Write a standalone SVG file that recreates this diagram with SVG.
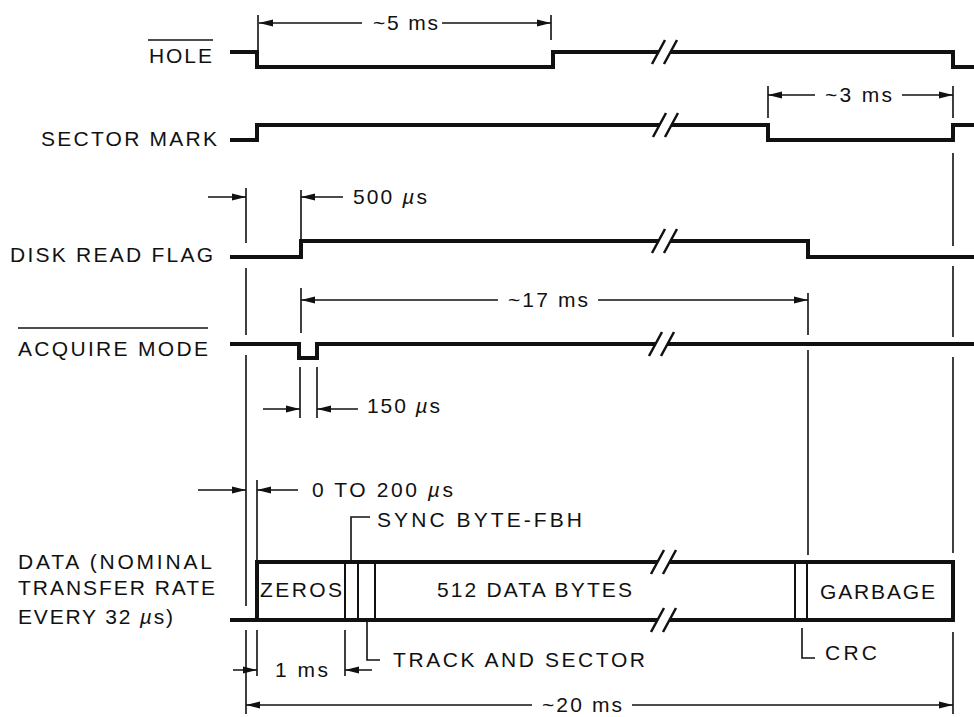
<svg xmlns="http://www.w3.org/2000/svg" width="974" height="717" viewBox="0 0 974 717">
<style>
.t{font-family:"Liberation Sans",Arial,Helvetica,sans-serif;font-size:21px;fill:#111;}
.sig{fill:none;stroke:#111;stroke-width:4;stroke-linejoin:miter;stroke-linecap:butt;}
.brk{fill:none;stroke:#111;stroke-width:2.5;}
.g{fill:none;stroke:#111;stroke-width:1.6;}
.dim{fill:none;stroke:#111;stroke-width:1.5;marker-end:url(#ah);}
.div{fill:none;stroke:#111;stroke-width:2;}
.ov{stroke:#111;stroke-width:1.6;}
</style>
<defs>
<marker id="ah" markerUnits="userSpaceOnUse" markerWidth="15" markerHeight="8" refX="14" refY="4" orient="auto">
<path d="M0,0.5 L14,4 L0,7.5 z" fill="#111"/>
</marker>
</defs>
<rect width="974" height="717" fill="#fff"/>

<g id="sig-hole">
<line class="ov" x1="148" y1="40" x2="213" y2="40"/>
<text class="t" x="149" y="63" textLength="63" lengthAdjust="spacing">HOLE</text>
<path class="sig" d="M230,52 H257 V67 H553 V52 H659 M670,52 H953 V67 H974"/>
<path class="brk" d="M652,64 L665,40 M664,64 L677,40"/>
</g>

<g id="sig-sector">
<text class="t" x="41" y="146" textLength="176" lengthAdjust="spacing">SECTOR MARK</text>
<path class="sig" d="M230,140 H257 V125 H660 M671,125 H768 V140 H953 V125 H974"/>
<path class="brk" d="M653,137 L666,113 M665,137 L678,113"/>
</g>

<g id="sig-diskread">
<text class="t" x="10" y="262" textLength="203" lengthAdjust="spacing">DISK READ FLAG</text>
<path class="sig" d="M230,257 H301 V241 H659 M670,241 H808 V257 H974"/>
<path class="brk" d="M652,253 L665,229 M664,253 L677,229"/>
</g>

<g id="sig-acquire">
<line class="ov" x1="18" y1="328" x2="208" y2="328"/>
<text class="t" x="18" y="356" textLength="190" lengthAdjust="spacing">ACQUIRE MODE</text>
<path class="sig" d="M230,344 H299 V358 H317 V344 H656 M667,344 H974"/>
<path class="brk" d="M649,356 L662,332 M661,356 L674,332"/>
</g>

<g id="sig-data">
<text class="t" x="18" y="569" textLength="194" lengthAdjust="spacing">DATA (NOMINAL</text>
<text class="t" x="18" y="595" textLength="197" lengthAdjust="spacing">TRANSFER RATE</text>
<text class="t" x="18" y="624" textLength="155" lengthAdjust="spacing">EVERY 32 <tspan font-style="italic">µ</tspan>s)</text>
<path class="sig" d="M230,620 H658 M669,620 H953 V562 H669 M658,562 H257 V620"/>
<path class="brk" d="M651,574 L664,550 M663,574 L676,550 M651,632 L664,608 M663,632 L676,608"/>
<path class="div" d="M345,562 V620 M358,562 V620 M795,562 V620 M807,562 V620"/>
<path class="div" stroke-width="3" d="M375,562 V620"/>
<text class="t" x="260" y="597" textLength="82" lengthAdjust="spacing">ZEROS</text>
<text class="t" x="437" y="597" textLength="195" lengthAdjust="spacing">512 DATA BYTES</text>
<text class="t" x="820" y="599" textLength="115" lengthAdjust="spacing">GARBAGE</text>
<path class="g" d="M351,562 V517 H370 M367,620 V660 H380 M802,628 V658 H815"/>
<text class="t" x="377" y="527" textLength="205" lengthAdjust="spacing">SYNC BYTE-FBH</text>
<text class="t" x="393" y="667" textLength="252" lengthAdjust="spacing">TRACK AND SECTOR</text>
<text class="t" x="825" y="660" textLength="52" lengthAdjust="spacing">CRC</text>
</g>

<g id="guides">
<path class="g" d="M246,188 V243 M246,268 V335 M246,355 V606 M246,630 V714"/>
<path class="g" d="M301,190 V241 M301,288 V333 M300,367 V418 M317,367 V418"/>
<path class="g" d="M258,15 V52 M551,15 V40"/>
<path class="g" d="M257,480 V562 M257,630 V676 M345,630 V676"/>
<path class="g" d="M768,86 V118 M808,293 V335 M808,350 V555"/>
<path class="g" d="M953,86 V118 M953,153 V246 M953,266 V337 M953,357 V553 M953,632 V714"/>
</g>

<g id="dimensions">
<line class="dim" x1="362" y1="23" x2="259" y2="23"/>
<line class="dim" x1="442" y1="23" x2="551" y2="23"/>
<text class="t" x="373" y="30" textLength="65" lengthAdjust="spacing">~5 ms</text>

<line class="dim" x1="815" y1="95" x2="768" y2="95"/>
<line class="dim" x1="902" y1="95" x2="953" y2="95"/>
<text class="t" x="825" y="102" textLength="67" lengthAdjust="spacing">~3 ms</text>

<line class="dim" x1="208" y1="197" x2="246" y2="197"/>
<line class="dim" x1="343" y1="197" x2="301" y2="197"/>
<text class="t" x="353" y="204" textLength="74" lengthAdjust="spacing">500 <tspan font-style="italic">µ</tspan>s</text>

<line class="dim" x1="498" y1="300" x2="301" y2="300"/>
<line class="dim" x1="598" y1="300" x2="808" y2="300"/>
<text class="t" x="508" y="307" textLength="80" lengthAdjust="spacing">~17 ms</text>

<line class="dim" x1="263" y1="409" x2="300" y2="409"/>
<line class="dim" x1="358" y1="409" x2="317" y2="409"/>
<text class="t" x="367" y="413" textLength="73" lengthAdjust="spacing">150 <tspan font-style="italic">µ</tspan>s</text>

<line class="dim" x1="198" y1="490" x2="246" y2="490"/>
<line class="dim" x1="298" y1="490" x2="257" y2="490"/>
<text class="t" x="312" y="497" textLength="141" lengthAdjust="spacing">0 TO 200 <tspan font-style="italic">µ</tspan>s</text>

<line class="dim" x1="233" y1="670" x2="257" y2="670"/>
<line class="dim" x1="372" y1="670" x2="345" y2="670"/>
<text class="t" x="275" y="677" textLength="53" lengthAdjust="spacing">1 ms</text>

<line class="dim" x1="532" y1="705" x2="246" y2="705"/>
<line class="dim" x1="632" y1="705" x2="953" y2="705"/>
<text class="t" x="542" y="712" textLength="80" lengthAdjust="spacing">~20 ms</text>
</g>
</svg>
